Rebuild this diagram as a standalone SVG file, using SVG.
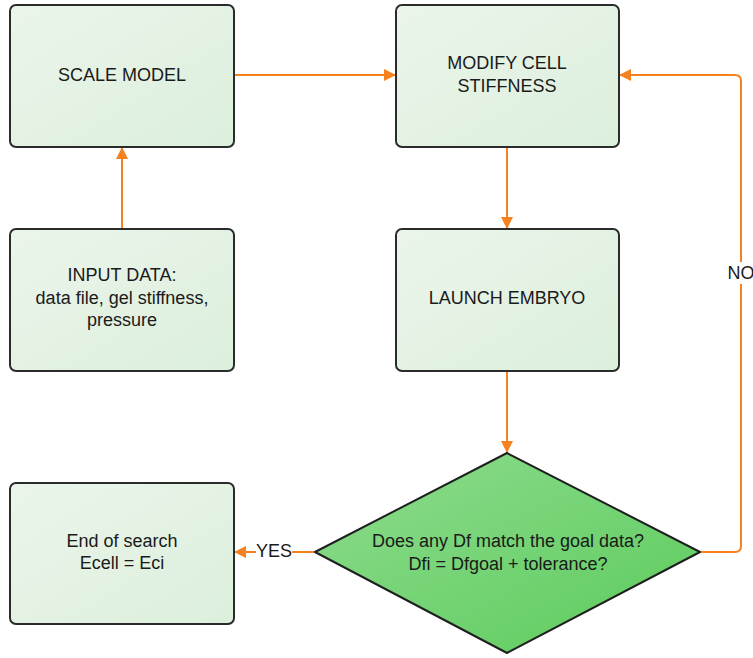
<svg xmlns="http://www.w3.org/2000/svg" width="753" height="658" viewBox="0 0 753 658">
  <defs>
    <linearGradient id="boxFill" x1="0" y1="0" x2="1" y2="1">
      <stop offset="0" stop-color="#ebf5eb"/>
      <stop offset="1" stop-color="#dcefdc"/>
    </linearGradient>
    <linearGradient id="diamondFill" x1="0" y1="0" x2="1" y2="1">
      <stop offset="0" stop-color="#8edc8e"/>
      <stop offset="1" stop-color="#5ccb5c"/>
    </linearGradient>
    <marker id="arrow" viewBox="0 0 12 12" refX="12" refY="6" markerWidth="12" markerHeight="12" markerUnits="userSpaceOnUse" orient="auto">
      <path d="M0,0 L12,6 L0,12 Z" fill="#f5821f"/>
    </marker>
    <style>
      .box { fill: url(#boxFill); stroke: #2b2b2b; stroke-width: 2; }
      .diamond { fill: url(#diamondFill); stroke: #1f1f1f; stroke-width: 2; stroke-linejoin: round; }
      .label { font-family: "Liberation Sans", Arial, sans-serif; font-size: 18px; fill: #1a1a1a; text-anchor: middle; dominant-baseline: central; }
      .wire { fill: none; stroke: #f5821f; stroke-width: 2; marker-end: url(#arrow); }
      .plain { fill: none; stroke: #f5821f; stroke-width: 2; }
      .tag { fill: #ffffff; }
    </style>
  </defs>

  <rect width="753" height="658" fill="#ffffff"/>

  <g id="connectors">
    <path class="wire" d="M234,75 H396"/>
    <path class="wire" d="M122,229 V147"/>
    <path class="wire" d="M507,147 V229"/>
    <path class="wire" d="M507,371 V453"/>
    <path class="plain" d="M315,552 H292"/>
    <path class="wire" d="M256,552 H234"/>
    <path class="wire" d="M700,552 H735 Q741,552 741,546 V81 Q741,75 735,75 H619"/>
    <rect class="tag" x="726" y="262" width="27" height="22"/>
    <text class="label" x="741" y="273">NO</text>
    <text class="label" x="274" y="551">YES</text>
  </g>

  <g id="scale-model">
    <rect class="box" x="10" y="5" width="224" height="142" rx="6"/>
    <text class="label" x="122" y="75">SCALE MODEL</text>
  </g>

  <g id="modify-cell-stiffness">
    <rect class="box" x="396" y="5" width="223" height="142" rx="6"/>
    <text class="label" x="507" y="63">MODIFY CELL</text>
    <text class="label" x="507" y="86">STIFFNESS</text>
  </g>

  <g id="input-data">
    <rect class="box" x="10" y="229" width="224" height="142" rx="6"/>
    <text class="label" x="122" y="275">INPUT DATA:</text>
    <text class="label" x="122" y="298">data file, gel stiffness,</text>
    <text class="label" x="122" y="320">pressure</text>
  </g>

  <g id="launch-embryo">
    <rect class="box" x="396" y="229" width="223" height="142" rx="6"/>
    <text class="label" x="507" y="298">LAUNCH EMBRYO</text>
  </g>

  <g id="end-of-search">
    <rect class="box" x="10" y="483" width="224" height="141" rx="6"/>
    <text class="label" x="122" y="541">End of search</text>
    <text class="label" x="122" y="563">Ecell = Eci</text>
  </g>

  <g id="goal-check">
    <path class="diamond" d="M507,453 L700,552 L507,653 L315,552 Z"/>
    <text class="label" x="508" y="541">Does any Df match the goal data?</text>
    <text class="label" x="508" y="564">Dfi = Dfgoal + tolerance?</text>
  </g>
</svg>
